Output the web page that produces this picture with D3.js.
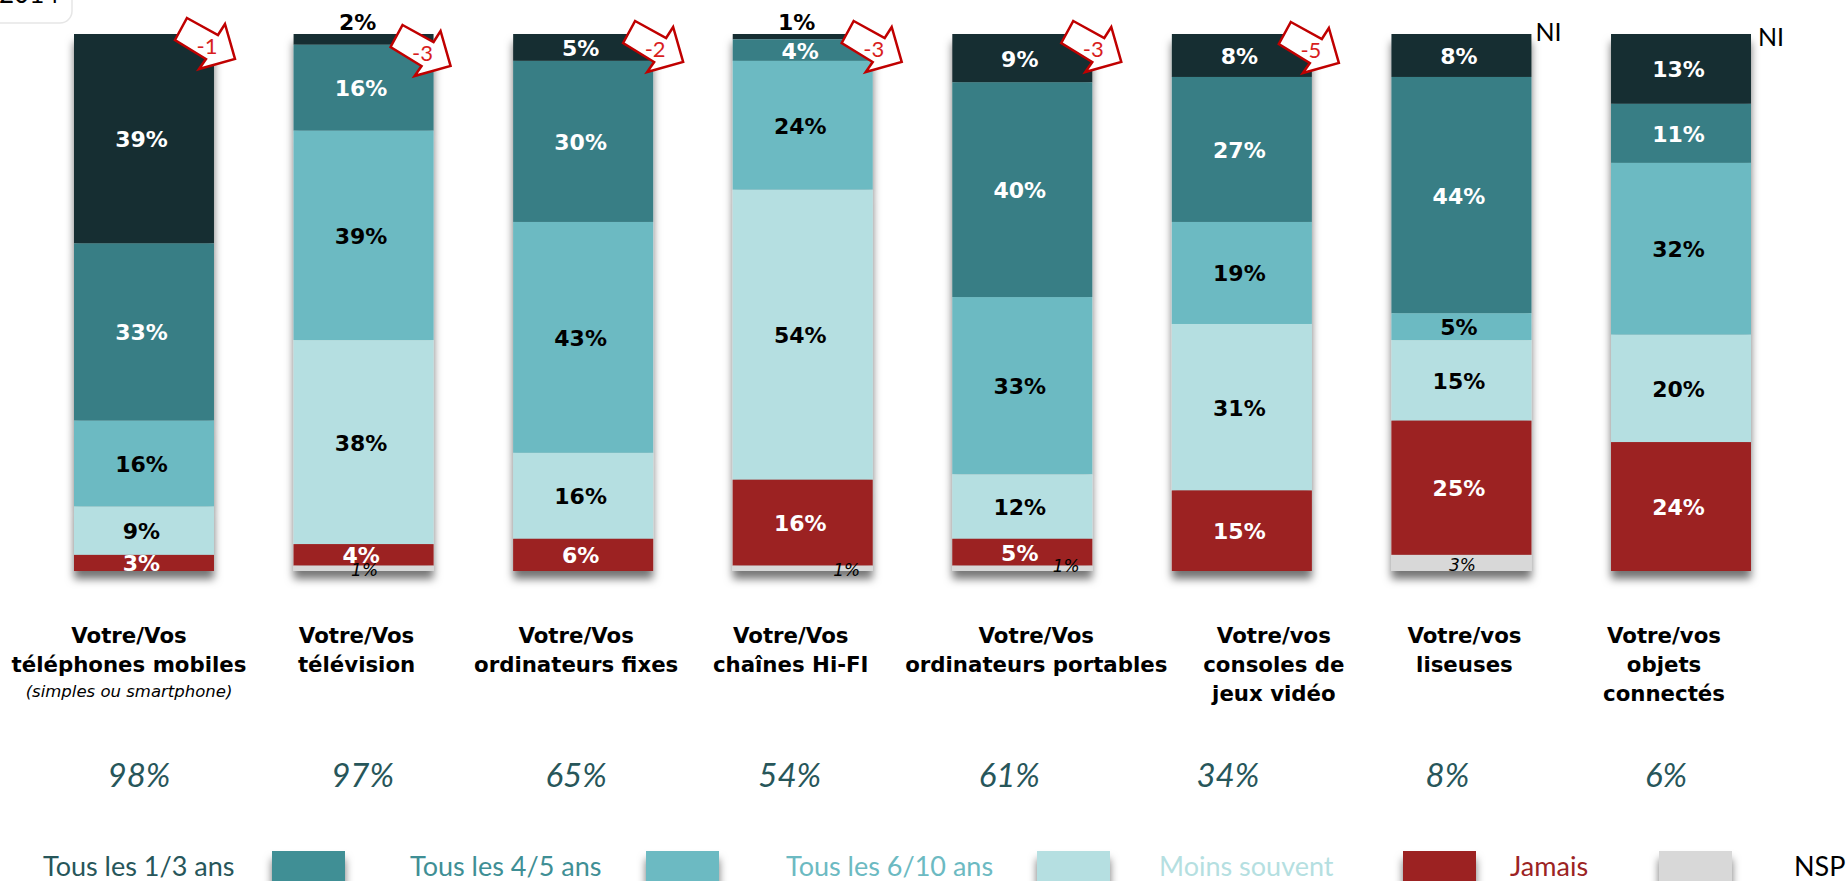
<!DOCTYPE html>
<html lang="fr">

<head>
    <meta charset="UTF-8">
    <title>Renouvellement des équipements</title>
    <script src="https://d3js.org/d3.v7.min.js"></script>
    <style>
        body { margin: 0; background: white; overflow: hidden; }
        svg { display: block; }
    </style>
</head>

<body>
    <script>
        // categories, top to bottom of each column
        const categories = ['mobiles', 'television', 'fixes', 'hifi', 'portables', 'consoles', 'liseuses', 'objets'];
        const catLines = [
            ['Votre/Vos', 'téléphones mobiles'],
            ['Votre/Vos', 'télévision'],
            ['Votre/Vos', 'ordinateurs fixes'],
            ['Votre/Vos', 'chaînes Hi-FI'],
            ['Votre/Vos', 'ordinateurs portables'],
            ['Votre/vos', 'consoles de', 'jeux vidéo'],
            ['Votre/vos', 'liseuses'],
            ['Votre/vos', 'objets', 'connectés']
        ];
        const subLabel = '(simples ou smartphone)';

        // series values, one per category
        const plusSouvent = [39, 2, 5, 1, 9, 8, 8, 13];
        const tous13 = [33, 16, 30, 4, 40, 27, 44, 11];
        const tous45 = [16, 39, 43, 24, 33, 19, 5, 32];
        const tous610 = [9, 38, 16, 54, 12, 31, 15, 20];
        const jamais = [3, 4, 6, 16, 5, 15, 25, 24];
        const nsp = [0, 1, 0, 1, 1, 0, 3, 0];

        const equipes = [98, 97, 65, 54, 61, 34, 8, 6];
        const evolutions = ['-1', '-3', '-2', '-3', '-3', '-5', 'NI', 'NI'];

        const legendLabels = ['Tous les 1/3 ans', 'Tous les 4/5 ans', 'Tous les 6/10 ans', 'Moins souvent', 'Jamais', 'NSP'];

        const width = 1846;
        const height = 881;
        const plotTop = 34;
        const plotBottom = 571;

        const serieNames = ['plus', 't13', 't45', 't610', 'jamais', 'nsp'];
        const serieValues = [plusSouvent, tous13, tous45, tous610, jamais, nsp];
        const colors = ['#182f33', '#397e85', '#6cbac2', '#b5dfe1', '#9c2323', '#d8d8d8'];
        const textColors = ['white', 'white', 'black', 'black', 'white', 'black'];

        const table = categories.map((c, i) => {
            const row = { cat: c };
            serieNames.forEach((s, j) => { row[s] = serieValues[j][i]; });
            return row;
        });

        const svg = d3.select('body').append('svg')
            .attr('width', width)
            .attr('height', height);

        const defs = svg.append('defs');
        const shadow = defs.append('filter').attr('id', 'shadow')
            .attr('x', '-20%').attr('y', '-5%').attr('width', '140%').attr('height', '115%');
        shadow.append('feDropShadow')
            .attr('dx', 0).attr('dy', 8).attr('stdDeviation', 4)
            .attr('flood-color', '#000').attr('flood-opacity', 0.55);

        const x = d3.scaleBand()
            .domain(categories)
            .range([74, 1751])
            .paddingInner(0.3625)
            .paddingOuter(0);

        const y = d3.scaleLinear()
            .domain([0, 100])
            .range([plotBottom, plotTop]);

        const stack = d3.stack().keys(serieNames).order(d3.stackOrderReverse)(table);

        // leftover box from the slide, cut by the top edge
        svg.append('rect')
            .attr('x', -30).attr('y', -40)
            .attr('width', 102).attr('height', 63)
            .attr('rx', 12)
            .attr('fill', 'white')
            .attr('stroke', '#e6e6e6')
            .attr('stroke-width', 1.5);
        svg.append('text')
            .attr('x', -1).attr('y', 3)
            .attr('font-family', 'Lato')
            .attr('font-size', 26)
            .text('2014');

        // columns
        const columns = svg.append('g').attr('filter', 'url(#shadow)');
        columns.selectAll('g')
            .data(stack)
            .enter()
            .append('g')
            .attr('fill', d => colors[serieNames.indexOf(d.key)])
            .selectAll('rect')
            .data(d => d)
            .enter()
            .append('rect')
            .attr('x', d => x(d.data.cat))
            .attr('y', d => y(d[1]))
            .attr('width', x.bandwidth())
            .attr('height', d => y(d[0]) - y(d[1]));

        // values inside the columns
        const labels = svg.append('g').attr('text-anchor', 'middle');
        stack.forEach(layer => {
            const k = serieNames.indexOf(layer.key);
            layer.forEach(d => {
                const v = d[1] - d[0];
                if (v === 0) return;
                const cx = x(d.data.cat) + x.bandwidth() / 2;
                const isNsp = layer.key === 'nsp';
                const above = layer.key === 'plus' && v <= 2;
                let lx = cx - 2.5;
                let ly = (y(d[0]) + y(d[1])) / 2 + 0.5;
                if (above) { lx = cx - 6; ly = plotTop - 12; }
                if (isNsp) {
                    // small italic values, pushed right when the red label is in the way
                    lx = d.data.cat === 'television' ? cx + 1 : (d.data.cat === 'liseuses' ? cx + 1 : cx + 44);
                    ly = d.data.cat === 'portables' ? 566 : (d.data.cat === 'liseuses' ? 565 : 570);
                }
                labels.append('text')
                    .attr('x', lx)
                    .attr('y', ly)
                    .attr('dy', '0.36em')
                    .attr('font-family', 'DejaVu Sans')
                    .attr('font-weight', isNsp ? 'normal' : 'bold')
                    .attr('font-style', isNsp ? 'italic' : 'normal')
                    .attr('font-size', isNsp ? 17 : 22)
                    .attr('fill', above ? 'black' : textColors[k])
                    .text(v + '%');
            });
        });

        // evolution arrows
        const arrowShape = [[-48, -41], [-17, -24], [-10, -35], [0, 0], [-36, 10], [-29, 0], [-60, -19]];
        const arrowLine = d3.line().curve(d3.curveLinearClosed);
        const arrowDx = [21, 17, 30, 29, 29, 27];
        const arrowDy = [59, 66, 62, 62, 62, 63];
        evolutions.forEach((e, i) => {
            const right = x(categories[i]) + x.bandwidth();
            if (e === 'NI') {
                svg.append('text')
                    .attr('x', right + (i === 6 ? 4 : 7))
                    .attr('y', i === 6 ? 41 : 46)
                    .attr('font-family', 'Lato')
                    .attr('font-size', 25)
                    .text(e);
                return;
            }
            const g = svg.append('g')
                .attr('transform', 'translate(' + (right + arrowDx[i]) + ',' + arrowDy[i] + ')');
            g.append('path')
                .attr('d', arrowLine(arrowShape))
                .attr('fill', 'white')
                .attr('stroke', '#c00000')
                .attr('stroke-width', 2.5);
            g.append('text')
                .attr('x', -28)
                .attr('y', -13)
                .attr('dy', '0.36em')
                .attr('text-anchor', 'middle')
                .attr('font-family', 'Lato')
                .attr('font-size', 22)
                .attr('fill', '#d81e1e')
                .text(e);
        });

        // category names under the columns
        const catNudge = [-15, -7, -7, -12, 14, 32, 3, -17];
        categories.forEach((c, i) => {
            const cx = x(c) + x.bandwidth() / 2 + catNudge[i];
            catLines[i].forEach((line, j) => {
                svg.append('text')
                    .attr('x', cx)
                    .attr('y', 635 + j * 29)
                    .attr('dy', '0.36em')
                    .attr('text-anchor', 'middle')
                    .attr('font-family', 'DejaVu Sans')
                    .attr('font-weight', 'bold')
                    .attr('font-size', 21.3)
                    .text(line);
            });
        });
        svg.append('text')
            .attr('x', 129)
            .attr('y', 691)
            .attr('dy', '0.36em')
            .attr('text-anchor', 'middle')
            .attr('font-family', 'DejaVu Sans')
            .attr('font-style', 'italic')
            .attr('font-size', 16.5)
            .text(subLabel);

        // share of people equipped
        const statNudge = [-5, -1, -7, -13, -13, -14, -14, -15];
        svg.append('g').selectAll('text')
            .data(equipes)
            .enter()
            .append('text')
            .attr('x', (d, i) => x(categories[i]) + x.bandwidth() / 2 + statNudge[i])
            .attr('y', 775)
            .attr('dy', '0.36em')
            .attr('text-anchor', 'middle')
            .attr('font-family', 'Lato')
            .attr('font-style', 'italic')
            .attr('font-size', 33)
            .attr('fill', '#27565a')
            .text(d => d + '%');

        // legend: the swatches are shifted one slot from their texts, as on the slide
        const legendColors = ['#27565a', '#3f8f95', '#6cbac2', '#b5dfe1', '#9c2323', '#000'];
        const legendTextX = [43, 410, 786, 1159, 1510, 1794];
        const swatchColors = ['#3f8f95', '#6cbac2', '#b5dfe1', '#9c2323', '#d8d8d8'];
        const swatchX = [272, 646, 1037, 1403, 1659];

        const legend = svg.append('g');
        legend.selectAll('text')
            .data(legendLabels)
            .enter()
            .append('text')
            .attr('x', (d, i) => legendTextX[i])
            .attr('y', 866)
            .attr('dy', '0.36em')
            .attr('font-family', 'Lato')
            .attr('font-size', 27)
            .attr('fill', (d, i) => legendColors[i])
            .text(d => d);
        legend.append('g').attr('filter', 'url(#shadow)')
            .selectAll('rect')
            .data(swatchColors)
            .enter()
            .append('rect')
            .attr('x', (d, i) => swatchX[i])
            .attr('y', 851)
            .attr('width', 73)
            .attr('height', 40)
            .attr('fill', d => d);
    </script>
</body>

</html>
